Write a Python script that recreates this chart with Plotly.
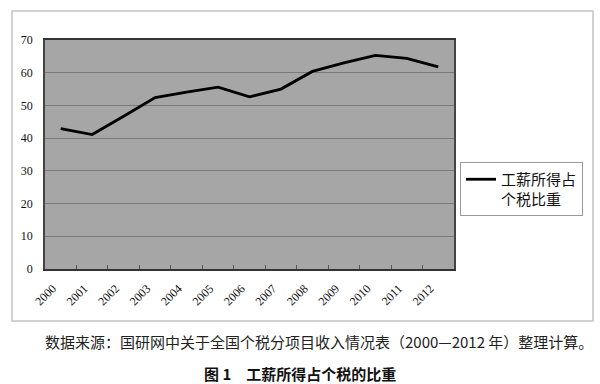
import plotly.graph_objects as go

years = ["2000", "2001", "2002", "2003", "2004", "2005", "2006",
         "2007", "2008", "2009", "2010", "2011", "2012"]
share = [42.9, 41.1, 46.7, 52.4, 54.1, 55.6, 52.6, 55.0, 60.4, 63.0, 65.3, 64.4, 61.8]
series_name = "工薪所得占<br>个税比重"
y_ticks = [0, 10, 20, 30, 40, 50, 60, 70]
source_text = "数据来源：国研网中关于全国个税分项目收入情况表（2000—2012 年）整理计算。"
caption_text = "图 1　工薪所得占个税的比重"

L, T, R, B = 45, 40, 454, 269
W, H = 600, 384
pw, ph = R - L, B - T

def px_x(x):
    return (x - L) / pw

def px_y(y):
    return (B - y) / ph

fig = go.Figure()
fig.add_trace(go.Scatter(
    x=years, y=share, mode="lines", name=series_name,
    line=dict(color="#000000", width=2.8),
))

serif = "Liberation Serif, DejaVu Serif, serif"
cjk = "Noto Sans CJK SC, sans-serif"

fig.update_layout(
    width=W, height=H,
    margin=dict(l=L, r=W - R, t=T, b=H - B, pad=0),
    paper_bgcolor="white",
    plot_bgcolor="#a6a6a6",
    showlegend=True,
    legend=dict(
        x=px_x(460), y=px_y(162), xanchor="left", yanchor="top",
        bordercolor="#9a9a9a", borderwidth=1, bgcolor="white",
        font=dict(family=cjk, size=15, color="#111111"),
        valign="top", tracegroupgap=0,
    ),
    xaxis=dict(
        type="category", range=[-0.5, 12.5],
        tickson="boundaries", ticks="inside", ticklen=4, tickcolor="#555555",
        tickangle=-45, tickfont=dict(family=serif, size=12, color="#111111"),
        ticklabelshift=-8, ticklabelstandoff=6,
        showline=True, linecolor="#333333", linewidth=1.5, mirror=True,
        showgrid=False, zeroline=False,
    ),
    yaxis=dict(
        range=[0, 70], tickvals=y_ticks, ticks="",
        tickfont=dict(family=serif, size=12, color="#111111"),
        ticklabelstandoff=8,
        showline=True, linecolor="#444444", linewidth=1.5, mirror=True,
        showgrid=True, gridcolor="#7a7a7a", gridwidth=1, zeroline=False,
    ),
    shapes=[dict(
        type="rect", xref="paper", yref="paper",
        x0=px_x(12), x1=px_x(593), y0=px_y(321), y1=px_y(11),
        line=dict(color="#c4c4c4", width=1.5), fillcolor="rgba(0,0,0,0)",
        layer="below",
    )],
    annotations=[
        dict(text=source_text, xref="paper", yref="paper",
             x=px_x(319), y=px_y(341), xanchor="center", yanchor="middle",
             showarrow=False, font=dict(family=cjk, size=15, color="#222222")),
        dict(text="<b>" + caption_text + "</b>", xref="paper", yref="paper",
             x=px_x(300), y=px_y(373), xanchor="center", yanchor="middle",
             showarrow=False, font=dict(family=cjk, size=15, color="#111111")),
    ],
)

fig.write_html(
    "out.html",
    config={"displayModeBar": False},
    post_script="document.body.style.margin='0';document.body.style.overflow='hidden';",
)
